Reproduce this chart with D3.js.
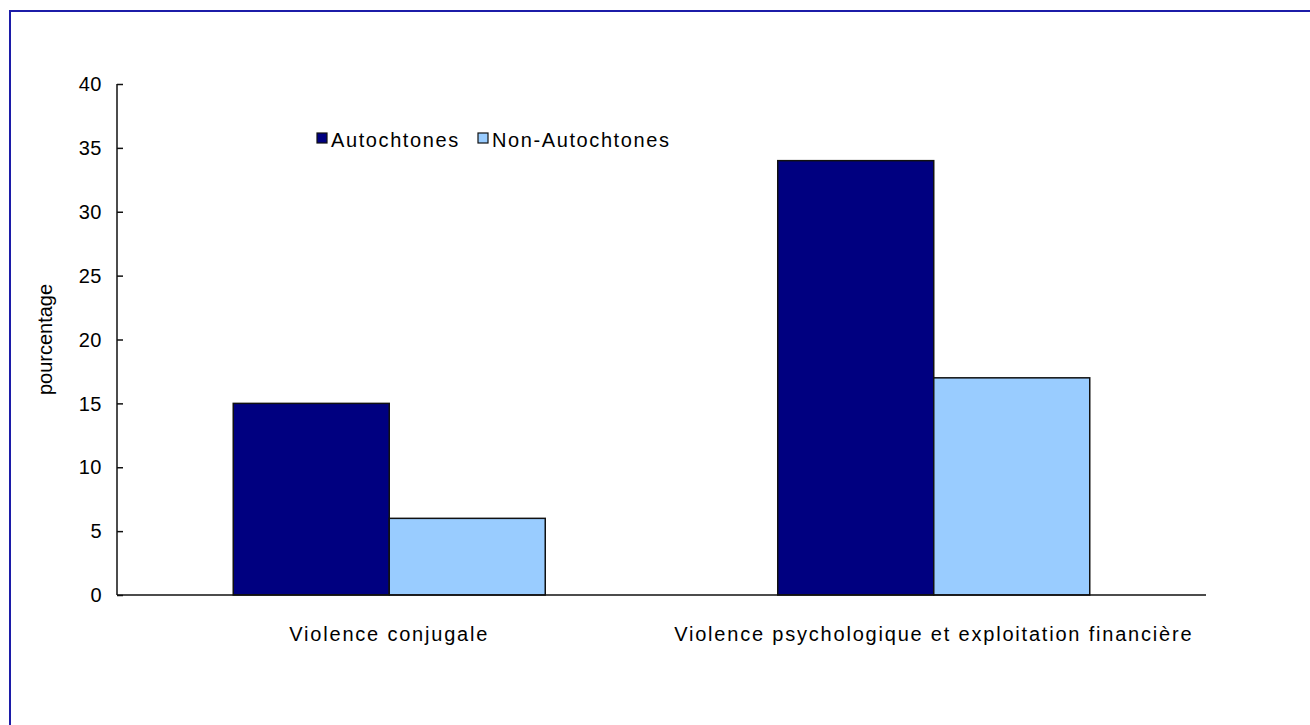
<!DOCTYPE html>
<html>
<head>
<meta charset="utf-8">
<script src="https://cdn.jsdelivr.net/npm/d3@7"></script>
<style>
  html, body { margin: 0; padding: 0; background: #fff; }
  svg { display: block; }
  text { font-family: Arial, "Liberation Sans", sans-serif; fill: #000; }
</style>
</head>
<body>
<svg id="chart" width="1310" height="725"></svg>
<script>
const categories = ["Violence conjugale", "Violence psychologique et exploitation financière"];
const seriesNames = ["Autochtones", "Non-Autochtones"];
const autochtones = [15, 34];
const nonAutochtones = [6, 17];
const yTicks = [0, 5, 10, 15, 20, 25, 30, 35, 40];
const seriesColors = ["#000080", "#99ccff"];

const svg = d3.select("#chart");

// outer frame (runs off the right and bottom edges)
svg.append("rect")
  .attr("x", 10).attr("y", 11)
  .attr("width", 1320).attr("height", 730)
  .attr("fill", "none")
  .attr("stroke", "#1c1ca8")
  .attr("stroke-width", 2);

const plot = { left: 117, right: 1206, top: 84, bottom: 595 };

const x0 = d3.scaleBand()
  .domain(categories)
  .range([plot.left, plot.right])
  .paddingInner(0.427)
  .paddingOuter(0.2135);

const x1 = d3.scaleBand()
  .domain(seriesNames)
  .range([0, x0.bandwidth()])
  .padding(0);

const y = d3.scaleLinear().domain([0, 40]).range([plot.bottom, plot.top]);

const rows = categories.map((c, i) => ({
  category: c,
  values: [
    { series: seriesNames[0], value: autochtones[i] },
    { series: seriesNames[1], value: nonAutochtones[i] }
  ]
}));

// bars
const groups = svg.append("g").selectAll("g")
  .data(rows)
  .join("g")
  .attr("transform", d => `translate(${x0(d.category)},0)`);

groups.selectAll("rect")
  .data(d => d.values)
  .join("rect")
  .attr("x", d => x1(d.series))
  .attr("y", d => y(d.value))
  .attr("width", x1.bandwidth())
  .attr("height", d => y(0) - y(d.value))
  .attr("fill", (d, i) => seriesColors[i])
  .attr("stroke", "#111")
  .attr("stroke-width", 1.5);

// y axis with inside ticks
const yAxis = d3.axisRight(y)
  .tickValues(yTicks)
  .tickSize(6)
  .tickFormat("");
const yg = svg.append("g")
  .attr("transform", `translate(${plot.left},0)`)
  .call(yAxis);
yg.select(".domain").remove();
yg.selectAll(".tick line").attr("stroke", "#111").attr("stroke-width", 1.5);
yg.append("line")
  .attr("x1", 0).attr("x2", 0)
  .attr("y1", plot.top).attr("y2", plot.bottom)
  .attr("stroke", "#111").attr("stroke-width", 1.5);

// y tick labels
svg.append("g").selectAll("text")
  .data(yTicks)
  .join("text")
  .attr("x", 102)
  .attr("y", d => y(d))
  .attr("dy", "0.36em")
  .attr("text-anchor", "end")
  .style("font-size", "20px")
  .style("letter-spacing", "0.5px")
  .text(d => d);

// x axis line
svg.append("line")
  .attr("x1", plot.left).attr("x2", plot.right)
  .attr("y1", y(0)).attr("y2", y(0))
  .attr("stroke", "#111").attr("stroke-width", 1.5);

// category labels
svg.append("g").selectAll("text")
  .data(categories)
  .join("text")
  .attr("x", d => x0(d) + x0.bandwidth() / 2)
  .attr("y", 641)
  .attr("text-anchor", "middle")
  .style("font-size", "20px")
  .style("letter-spacing", "1.8px")
  .text(d => d);

// y axis title
svg.append("text")
  .attr("transform", `translate(52,${(plot.top + plot.bottom) / 2}) rotate(-90)`)
  .attr("text-anchor", "middle")
  .style("font-size", "20px")
  .text("pourcentage");

// legend
const legendItems = [
  { name: seriesNames[0], color: seriesColors[0], x: 317 },
  { name: seriesNames[1], color: seriesColors[1], x: 478 }
];
const lg = svg.append("g").selectAll("g")
  .data(legendItems)
  .join("g")
  .attr("transform", d => `translate(${d.x},133)`);
lg.append("rect")
  .attr("width", 10).attr("height", 10)
  .attr("fill", d => d.color)
  .attr("stroke", "#111").attr("stroke-width", 1.2);
lg.append("text")
  .attr("x", 14).attr("y", 14)
  .style("font-size", "20px")
  .style("letter-spacing", "1.6px")
  .text(d => d.name);
</script>
</body>
</html>
